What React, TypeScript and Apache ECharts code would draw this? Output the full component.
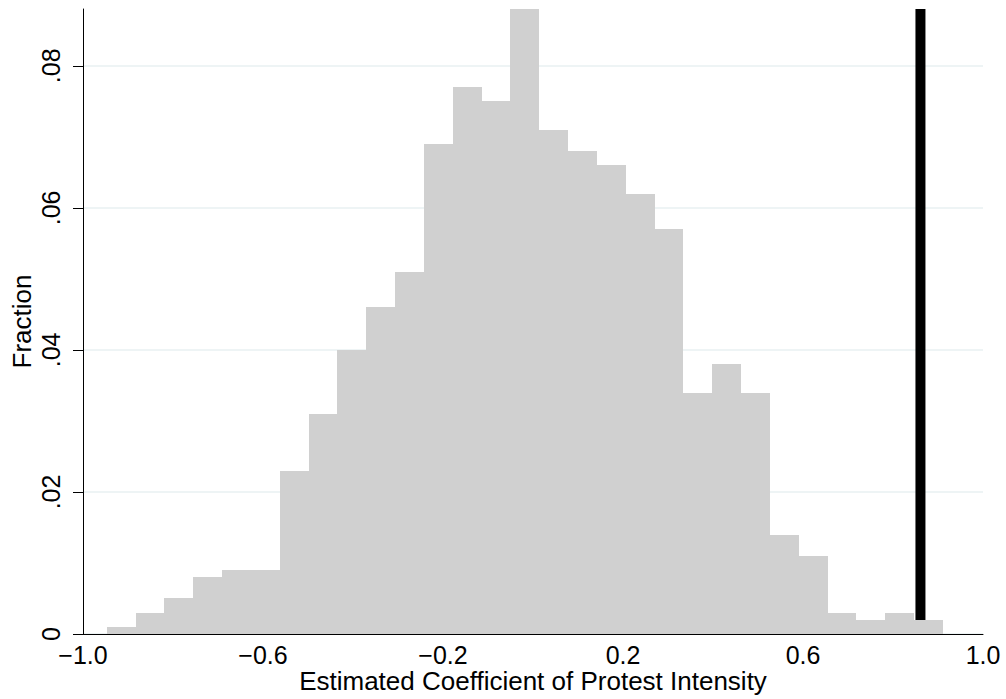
import React, { useEffect, useRef } from "react";
import * as echarts from "echarts";

// Histogram of estimated coefficients
const binStart = -0.9473;
const binWidth = 0.06407;
const fractions = [
  0.001, 0.003, 0.005, 0.008, 0.009, 0.009, 0.023, 0.031, 0.040, 0.046,
  0.051, 0.069, 0.077, 0.075, 0.088, 0.071, 0.068, 0.066, 0.062, 0.057,
  0.034, 0.038, 0.034, 0.014, 0.011, 0.003, 0.002, 0.003, 0.002,
];
const actualEstimate = 0.861;
const xTicks = [-1.0, -0.6, -0.2, 0.2, 0.6, 1.0];
const yTicks = [0, 0.02, 0.04, 0.06, 0.08];
const yMax = 0.088;

const fmtX = (v: number) => {
  const s = Math.abs(v).toFixed(1);
  return v < -1e-9 ? "\u2212" + s : s;
};
const fmtY = (v: number) => (v === 0 ? "0" : v.toFixed(2).replace(/^0/, ""));

export default function App() {
  const ref = useRef<HTMLDivElement>(null);
  useEffect(() => {
    if (!ref.current) return;
    const chart = echarts.init(ref.current, undefined, { renderer: "svg" });
    const binData = fractions.map((f, i) => [
      binStart + i * binWidth,
      binStart + (i + 1) * binWidth,
      f,
    ]);
    const font = "'Liberation Sans', Arial, Helvetica, sans-serif";
    const fs = 25;
    const nfs = 26;
    chart.setOption({
      animation: false,
      backgroundColor: "#ffffff",
      grid: {
        left: 83,
        right: 23,
        top: 9,
        bottom: 65,
        containLabel: false,
        outerBoundsMode: "none",
      },
      xAxis: {
        type: "value",
        z: 5,
        min: -1,
        max: 1,
        interval: 0.2,
        name: "Estimated Coefficient of Protest Intensity",
        nameLocation: "middle",
        nameGap: 34,
        nameMoveOverlap: false,
        nameTextStyle: { fontFamily: font, fontSize: nfs, color: "#000" },
        axisLine: { show: true, onZero: false, lineStyle: { color: "#000", width: 1 } },
        axisTick: { show: false },
        splitLine: { show: false },
        axisLabel: {
          customValues: xTicks,
          formatter: (v: number) => fmtX(v),
          fontFamily: font,
          fontSize: fs,
          color: "#000",
          margin: 8,
        },
      },
      yAxis: {
        type: "value",
        z: 0,
        min: 0,
        max: yMax,
        interval: 0.02,
        name: "Fraction",
        nameLocation: "middle",
        nameGap: 48,
        nameMoveOverlap: false,
        nameTextStyle: { fontFamily: font, fontSize: nfs, color: "#000" },
        axisLine: { show: true, onZero: false, lineStyle: { color: "#000", width: 1 } },
        axisTick: {
          show: true,
          customValues: yTicks,
          length: 10,
          lineStyle: { color: "#000", width: 1 },
        },
        splitLine: { show: true, lineStyle: { color: "#e8f0f2", width: 1.5 } },
        axisLabel: {
          customValues: yTicks,
          formatter: (v: number) => fmtY(v),
          rotate: 90,
          fontFamily: font,
          fontSize: fs,
          color: "#000",
          margin: 20,
        },
      },
      series: [
        {
          type: "line",
          z: 1,
          symbol: "none",
          data: [
            [actualEstimate, 0],
            [actualEstimate, yMax],
          ],
          lineStyle: { color: "#000", width: 10 },
          silent: true,
        },
        {
          type: "custom",
          z: 2,
          data: binData,
          encode: { x: [0, 1], y: 2 },
          renderItem: (params: any, api: any) => {
            const p0 = api.coord([api.value(0), 0]);
            const p1 = api.coord([api.value(1), api.value(2)]);
            const x0 = Math.round(p0[0]);
            const x1 = Math.round(p1[0]);
            const yb = Math.round(p0[1]);
            const yt = Math.round(p1[1]);
            return {
              type: "rect",
              shape: { x: x0, y: yt, width: x1 - x0, height: yb - yt },
              style: { fill: "#d0d0d0" },
            };
          },
        },
      ],
    });
    return () => chart.dispose();
  }, []);
  return (
    <div
      ref={ref}
      style={{ position: "fixed", left: 0, top: 0, width: 1006, height: 699, background: "#fff" }}
    />
  );
}
